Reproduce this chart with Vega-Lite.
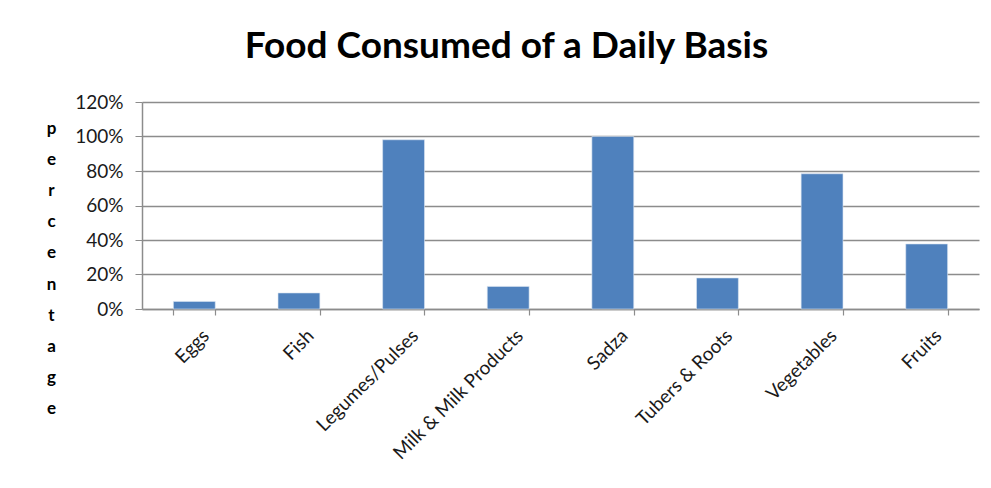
{
  "$schema": "https://vega.github.io/schema/vega-lite/v6.json",
  "width": 837,
  "height": 207,
  "autosize": {"type": "none"},
  "padding": {"left": 142, "top": 102, "right": 12, "bottom": 179},
  "background": "white",
  "title": {
    "text": "Food Consumed of a Daily Basis",
    "font": "Lato",
    "fontSize": 37,
    "fontWeight": "bold",
    "color": "#000000",
    "anchor": "middle",
    "frame": "group",
    "dx": -54,
    "offset": 27
  },
  "data": {
    "values": [
      {"food": "Eggs", "share": 0.044},
      {"food": "Fish", "share": 0.093},
      {"food": "Legumes/Pulses", "share": 0.981},
      {"food": "Milk & Milk Products", "share": 0.131},
      {"food": "Sadza", "share": 1.0},
      {"food": "Tubers & Roots", "share": 0.18},
      {"food": "Vegetables", "share": 0.784},
      {"food": "Fruits", "share": 0.377}
    ]
  },
  "mark": {"type": "bar", "color": "#4F81BD", "stroke": "#dce6f2", "strokeWidth": 0.6},
  "encoding": {
    "x": {
      "field": "food",
      "type": "nominal",
      "sort": null,
      "scale": {"paddingInner": 0.6, "paddingOuter": 0.3},
      "axis": {
        "title": null,
        "labelAngle": -45,
        "labelFont": "Lato",
        "labelFontSize": 19,
        "labelColor": "#1a1a1a",
        "labelPadding": 11,
        "labelOffset": 5,
        "domainColor": "#8c8c8c",
        "domainWidth": 1.5,
        "tickColor": "#8c8c8c",
        "tickSize": 6,
        "tickWidth": 1.2,
        "tickBand": "extent",
        "ticks": true,
        "grid": false
      }
    },
    "y": {
      "field": "share",
      "type": "quantitative",
      "scale": {"domain": [0, 1.2], "nice": false},
      "axis": {
        "values": [0, 0.2, 0.4, 0.6, 0.8, 1.0, 1.2],
        "format": ".0%",
        "labelFont": "Lato",
        "labelFontSize": 19,
        "labelColor": "#1a1a1a",
        "labelPadding": 12,
        "tickSize": 7,
        "tickColor": "#8c8c8c",
        "domainColor": "#8c8c8c",
        "domainWidth": 1.5,
        "grid": true,
        "gridColor": "#8c8c8c",
        "gridWidth": 1.3,
        "title": ["p", "e", "r", "c", "e", "n", "t", "a", "g", "e"],
        "titleFont": "Lato",
        "titleFontSize": 17,
        "titleFontWeight": "bold",
        "titleColor": "#000000",
        "titleAngle": 0,
        "titleAlign": "center",
        "titleBaseline": "top",
        "titleLineHeight": 31.2,
        "titleX": -91,
        "titleY": 18
      }
    }
  },
  "config": {
    "view": {"stroke": null}
  }
}
